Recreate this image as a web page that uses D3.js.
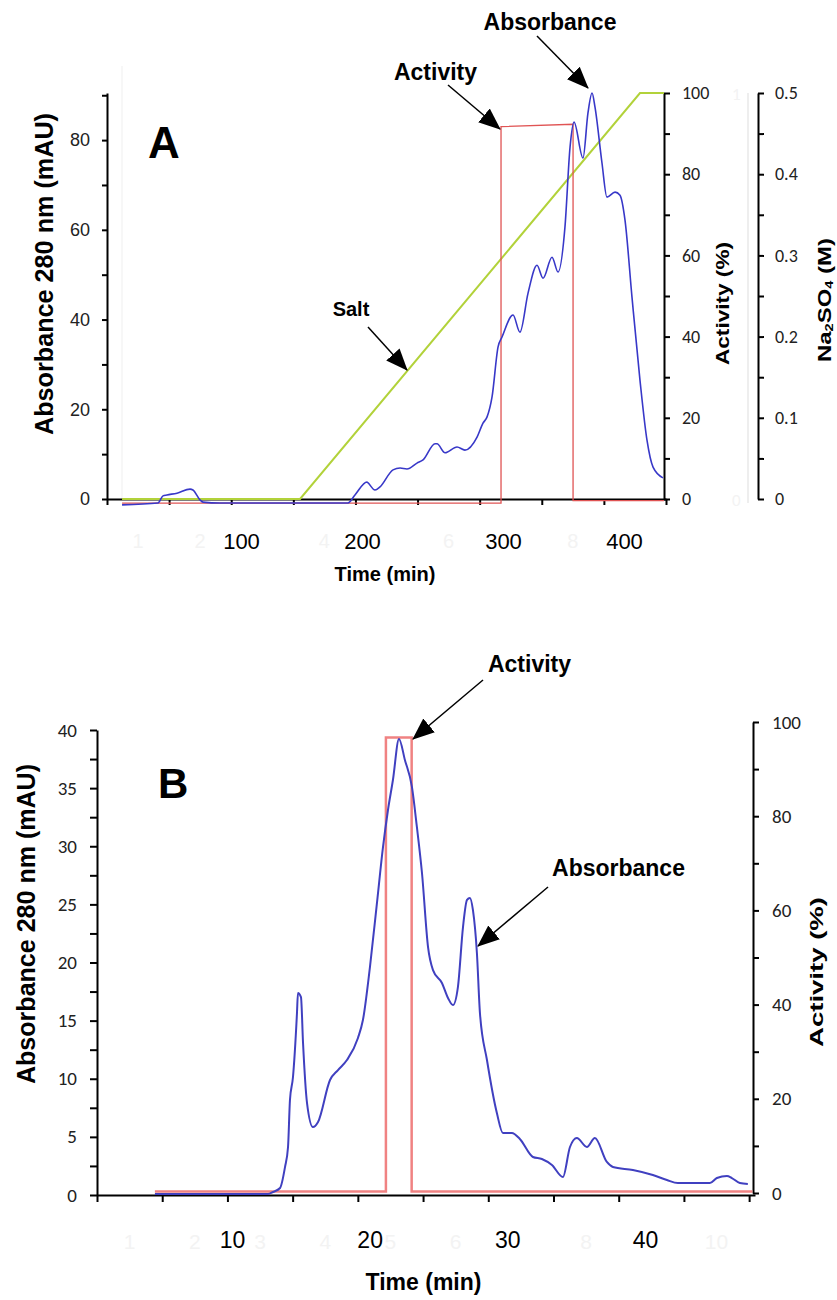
<!DOCTYPE html>
<html lang="en">
<head>
<meta charset="utf-8">
<title>Chromatograms A and B</title>
<script src="https://cdn.jsdelivr.net/npm/d3@7"></script>
<style>
    body { margin: 0; background: #fff; }
    svg { display: block; }
</style>
</head>
<body>
<svg width="837" height="1300"></svg>
<script>
// ---------- panel A data ----------
var timeA = [1.7, 31.4, 35.5, 38.8, 47.1, 57.9, 60.3, 66.1, 68.6, 82.6, 188.4, 194.2, 203.5, 204.3, 209.2,
    212.8, 222.0, 227.0, 231.9, 239.0, 243.3, 251.8, 253.2, 258.9, 267.4, 273.0, 281.6, 285.8, 288.7,
    292.2, 296.5, 299.3, 308.3, 314.0, 320.7, 328.1, 333.1, 340.5, 345.5, 351.2, 355.4, 358.7, 366.1,
    370.2, 373.6, 376.0, 381.8, 385.9, 392.6, 396.7, 400.8, 406.6, 413.2, 419.0, 424.0, 432.2];
var absA = [-1.3, -0.9, 0.7, 0.9, 1.3, 2.2, 2.0, -0.2, -0.7, -0.9, -0.9, 0.9, 3.8, 3.6, 2.0,
    2.7, 6.5, 6.9, 6.7, 8.0, 8.7, 12.3, 12.3, 10.3, 11.6, 10.9, 13.8, 16.9, 18.3,
    22.7, 33.9, 36.1, 41.0, 37.2, 45.9, 52.1, 49.2, 53.9, 50.6, 60.6, 78.4, 84.0, 76.0,
    86.0, 90.5, 87.4, 74.9, 67.3, 68.4, 67.7, 62.2, 45.0, 26.5, 13.1, 7.1, 4.7];
var actTimeA = [1.7, 298.6, 298.6, 357.9, 357.9, 433];
var actA = [-1, -1, 91.7, 92.3, -0.4, -0.4];
var saltTimeA = [1.7, 148.8, 413.2, 433];
var saltA = [0, 0, 0.5, 0.5];

var timeLabelsA = [100, 200, 300, 400];
var fracTicksA = [0, 1, 2, 3, 4, 5, 6, 7, 8, 9];
var ghostLabelsA = [1, 2, 4, 6, 8];     // faint fraction numbers left from the original axis
var absTicksA = [0, 10, 20, 30, 40, 50, 60, 70, 80, 90];
var actTicksA = [0, 10, 20, 30, 40, 50, 60, 70, 80, 90, 100];
var saltTicksA = [0, 0.05, 0.1, 0.15, 0.2, 0.25, 0.3, 0.35, 0.4, 0.45, 0.5];

// ---------- panel B data ----------
var timeB = [4.4, 12.62, 12.98, 13.49, 13.85, 14.07, 14.21, 14.43, 14.72, 14.79, 15.01, 15.16, 15.45,
    15.88, 16.25, 17.12, 17.70, 18.35, 19.15, 19.51, 20.02, 20.53, 20.97, 21.33, 21.69, 22.13, 22.56,
    23.07, 23.43, 23.80, 24.24, 24.60, 25.25, 25.69, 26.05, 26.41, 26.78, 27.07, 27.28, 27.50, 27.79,
    28.01, 28.52, 29.24, 29.68, 30.33, 30.91, 31.86, 32.51, 33.24, 34.04, 34.55, 35.05, 35.78, 36.36,
    37.23, 37.67, 39.12, 40.57, 41.59, 42.39, 44.71, 45.22, 45.95, 46.31, 46.89, 47.47];
var absB = [0.09, 0.09, 0.26, 0.6, 2.4, 4.13, 8.17, 10.15, 15.66, 17.38, 17.03, 13.08, 7.91,
    5.85, 6.28, 9.89, 10.75, 11.61, 13.51, 15.05, 19.61, 25.12, 29.94, 33.12, 35.70, 39.23, 37.42,
    35.10, 31.66, 27.70, 21.33, 19.35, 18.24, 16.95, 16.34, 17.89, 23.05, 25.38, 25.55, 24.52, 20.82,
    15.66, 11.61, 7.05, 5.33, 5.33, 4.82, 3.27, 3.10, 2.58, 1.55, 4.13, 4.90, 4.13, 4.90,
    2.84, 2.41, 2.15, 1.72, 1.29, 1.03, 1.03, 1.46, 1.63, 1.46, 1.03, 0.95];
var actTimeB = [4.4, 21.18, 21.18, 23.05, 23.05, 47.8];
var actB = [0.3, 0.3, 96.7, 96.7, 0.3, 0.3];

var timeLabelsB = [10, 20, 30, 40];
var fracTicksB = [0, 1, 2, 3, 4, 5, 6, 7, 8, 9, 10];
var ghostLabelsB = [1, 2, 3, 4, 5, 6, 8, 10];
var absTicksB = [0, 2.5, 5, 7.5, 10, 12.5, 15, 17.5, 20, 22.5, 25, 27.5, 30, 32.5, 35, 37.5, 40];
var actTicksB = [0, 10, 20, 30, 40, 50, 60, 70, 80, 90, 100];

// ---------- fonts and colours ----------
var NARROW = "'Liberation Sans Narrow', 'Arial Narrow', 'Liberation Sans', sans-serif";
var ARIAL = "'Liberation Sans', Arial, Helvetica, sans-serif";
var CALIBRI = "Carlito, Lato, 'Open Sans', sans-serif";
var BLUE = "#3838c8";
var GREEN = "#b2d23a";
var GHOST = "#f3f3f3";

var svg = d3.select("svg");

// arrow head
svg.append("defs").append("marker")
    .attr("id", "head")
    .attr("viewBox", "0 -10 22 20")
    .attr("refX", 21).attr("refY", 0)
    .attr("markerWidth", 22).attr("markerHeight", 20)
    .attr("markerUnits", "userSpaceOnUse")
    .attr("orient", "auto")
    .append("path").attr("d", "M0,-9L22,0L0,9Z").attr("fill", "#000");

function styleAxis(g, font, size, color) {
    g.attr("font-family", font).attr("font-size", size);
    g.select(".domain").attr("stroke", "#000").attr("stroke-width", 2);
    g.selectAll(".tick line").attr("stroke", "#000").attr("stroke-width", 2);
    g.selectAll(".tick text").attr("fill", color || "#222");
}

function every(step) {
    return function (d) { return Math.abs(d / step - Math.round(d / step)) < 1e-6 ? d : ""; };
}

function vTitle(x, y, size, len, txt) {
    return svg.append("text")
        .attr("transform", "translate(" + x + "," + y + ") rotate(-90)")
        .attr("text-anchor", "middle")
        .attr("dominant-baseline", "central")
        .attr("font-family", ARIAL).attr("font-weight", "bold")
        .attr("font-size", size)
        .attr("textLength", len).attr("lengthAdjust", "spacingAndGlyphs")
        .text(txt);
}

function label(x, y, size, txt) {
    svg.append("text").attr("x", x).attr("y", y)
        .attr("text-anchor", "middle")
        .attr("font-family", ARIAL).attr("font-weight", "bold")
        .attr("font-size", size).text(txt);
}

function arrow(x1, y1, x2, y2) {
    svg.append("line").attr("x1", x1).attr("y1", y1).attr("x2", x2).attr("y2", y2)
        .attr("stroke", "#000").attr("stroke-width", 1.5)
        .attr("marker-end", "url(#head)");
}

// =================== PANEL A ===================
var xA = d3.scaleLinear().domain([100, 200, 300, 400]).range([241, 362, 503, 624]);
var fA = d3.scaleLinear().domain([0, 9]).range([107, 666]);
var yA = d3.scaleLinear().domain([0, 90.5]).range([499, 93]);
var actYA = d3.scaleLinear().domain([0, 100]).range([499, 93]);
var saltY = d3.scaleLinear().domain([0, 0.5]).range([499, 93]);

// faint leftovers of the original frame
svg.append("line").attr("x1", 122).attr("x2", 122).attr("y1", 66).attr("y2", 499)
    .attr("stroke", "#efefef").attr("stroke-width", 1);
svg.append("line").attr("x1", 748).attr("x2", 748).attr("y1", 93).attr("y2", 503)
    .attr("stroke", "#e8e8e8").attr("stroke-width", 1.5);
svg.append("text").attr("x", 732).attr("y", 100).attr("font-family", CALIBRI)
    .attr("font-size", 17).attr("fill", GHOST).text("1");
svg.append("text").attr("x", 732).attr("y", 506).attr("font-family", CALIBRI)
    .attr("font-size", 17).attr("fill", GHOST).text("0");
svg.append("g").selectAll("text").data(ghostLabelsA).enter().append("text")
    .attr("x", function (d) { return fA(d - 0.5); }).attr("y", 548)
    .attr("text-anchor", "middle").attr("font-family", ARIAL).attr("font-size", 20)
    .attr("fill", GHOST).text(function (d) { return d; });

// axes
var gxA = svg.append("g").attr("transform", "translate(0,499)")
    .call(d3.axisBottom(fA).tickValues(fracTicksA).tickSize(6).tickSizeOuter(0).tickFormat(""));
styleAxis(gxA, ARIAL, 20);
var gxlA = svg.append("g").attr("transform", "translate(0,499)")
    .call(d3.axisBottom(xA).tickValues(timeLabelsA).tickSize(0).tickPadding(34));
gxlA.select(".domain").remove();
gxlA.attr("font-family", ARIAL).attr("font-size", 22);
gxlA.selectAll(".tick text").attr("fill", "#000");

var gyA = svg.append("g").attr("transform", "translate(107,0)")
    .call(d3.axisLeft(yA).tickValues(absTicksA).tickSize(5).tickPadding(12)
        .tickSizeOuter(0).tickFormat(every(20)));
styleAxis(gyA, NARROW, 18);

var gaA = svg.append("g").attr("transform", "translate(664,0)")
    .call(d3.axisRight(actYA).tickValues(actTicksA).tickSize(6).tickPadding(12)
        .tickSizeOuter(0).tickFormat(every(20)));
styleAxis(gaA, CALIBRI, 18);

var gsA = svg.append("g").attr("transform", "translate(758,0)")
    .call(d3.axisRight(saltY).tickValues(saltTicksA).tickSize(6).tickPadding(11)
        .tickSizeOuter(0).tickFormat(function (d) { return every(0.1)(d) === "" ? "" : +d.toFixed(1); }));
styleAxis(gsA, CALIBRI, 18);

// curves
svg.append("path")
    .datum(saltTimeA.map(function (t, i) { return [t, saltA[i]]; }))
    .attr("d", d3.line().x(function (d) { return xA(d[0]); }).y(function (d) { return saltY(d[1]); }))
    .attr("fill", "none").attr("stroke", GREEN).attr("stroke-width", 2);
svg.append("path")
    .datum(actTimeA.map(function (t, i) { return [t, actA[i]]; }))
    .attr("d", d3.line().x(function (d) { return xA(d[0]); }).y(function (d) { return actYA(d[1]); }))
    .attr("fill", "none").attr("stroke", "#e05454").attr("stroke-width", 1.3);
svg.append("path")
    .datum(timeA.map(function (t, i) { return [t, absA[i]]; }))
    .attr("d", d3.line().curve(d3.curveMonotoneX)
        .x(function (d) { return xA(d[0]); }).y(function (d) { return yA(d[1]); }))
    .attr("fill", "none").attr("stroke", BLUE).attr("stroke-width", 1.6);

// titles
vTitle(43.5, 274, 25, 322, "Absorbance 280 nm (mAU)");
vTitle(722.5, 303.5, 18, 123, "Activity (%)");
var na = vTitle(825, 300, 18, 124, "");
na.append("tspan").text("Na");
na.append("tspan").attr("font-size", 11).attr("dy", 4).text("2");
na.append("tspan").attr("dy", -4).text("SO");
na.append("tspan").attr("font-size", 11).attr("dy", 4).text("4");
na.append("tspan").attr("dy", -4).text(" (M)");
label(385, 581, 20, "Time (min)");

svg.append("text").attr("x", 148).attr("y", 158)
    .attr("font-family", ARIAL).attr("font-weight", "bold").attr("font-size", 44).text("A");

label(435.5, 80, 23, "Activity");
label(550, 30, 23, "Absorbance");
label(351, 316, 20, "Salt");
arrow(448, 85, 500, 129);
arrow(537, 36, 588, 88);
arrow(368, 327, 407, 370);

// =================== PANEL B ===================
var xB = d3.scaleLinear().domain([10, 40]).range([232, 645]);
var fB = d3.scaleLinear().domain([0, 10.09]).range([97, 755]);
var yB = d3.scaleLinear().domain([0, 40]).range([1195, 730]);
var actYB = d3.scaleLinear().domain([0, 100]).range([1193, 722]);

svg.append("g").selectAll("text").data(ghostLabelsB).enter().append("text")
    .attr("x", function (d) { return fB(d - 0.5); }).attr("y", 1249)
    .attr("text-anchor", "middle").attr("font-family", ARIAL).attr("font-size", 21)
    .attr("fill", GHOST).text(function (d) { return d; });

var gxB = svg.append("g").attr("transform", "translate(0,1195)")
    .call(d3.axisBottom(fB).tickValues(fracTicksB).tickSize(7).tickSizeOuter(0).tickFormat(""));
styleAxis(gxB, ARIAL, 20);
var gxlB = svg.append("g").attr("transform", "translate(0,1195)")
    .call(d3.axisBottom(xB).tickValues(timeLabelsB).tickSize(0).tickPadding(37));
gxlB.select(".domain").remove();
gxlB.attr("font-family", ARIAL).attr("font-size", 23);
gxlB.selectAll(".tick text").attr("fill", "#000");

var gyB = svg.append("g").attr("transform", "translate(97,0)")
    .call(d3.axisLeft(yB).tickValues(absTicksB).tickSize(7).tickPadding(13)
        .tickSizeOuter(0).tickFormat(every(5)));
styleAxis(gyB, CALIBRI, 19);

var gaB = svg.append("g").attr("transform", "translate(753,0)")
    .call(d3.axisRight(actYB).tickValues(actTicksB).tickSize(6).tickPadding(13)
        .tickSizeOuter(0).tickFormat(every(20)));
styleAxis(gaB, CALIBRI, 19);

svg.append("path")
    .datum(actTimeB.map(function (t, i) { return [t, actB[i]]; }))
    .attr("d", d3.line().x(function (d) { return xB(d[0]); }).y(function (d) { return actYB(d[1]); }))
    .attr("fill", "none").attr("stroke", "#f08282").attr("stroke-width", 2.5);
svg.append("path")
    .datum(timeB.map(function (t, i) { return [t, absB[i]]; }))
    .attr("d", d3.line().curve(d3.curveMonotoneX)
        .x(function (d) { return xB(d[0]); }).y(function (d) { return yB(d[1]); }))
    .attr("fill", "none").attr("stroke", "#4040c0").attr("stroke-width", 2);

vTitle(26, 924, 25, 320, "Absorbance 280 nm (mAU)");
vTitle(817, 972, 18, 150, "Activity (%)");
label(423.5, 1290, 23, "Time (min)");

svg.append("text").attr("x", 158).attr("y", 798)
    .attr("font-family", ARIAL).attr("font-weight", "bold").attr("font-size", 42).text("B");

label(529.5, 672, 23, "Activity");
label(618.5, 876, 23, "Absorbance");
arrow(483, 680, 413, 739);
arrow(548, 887, 478, 946);
</script>
</body>
</html>
